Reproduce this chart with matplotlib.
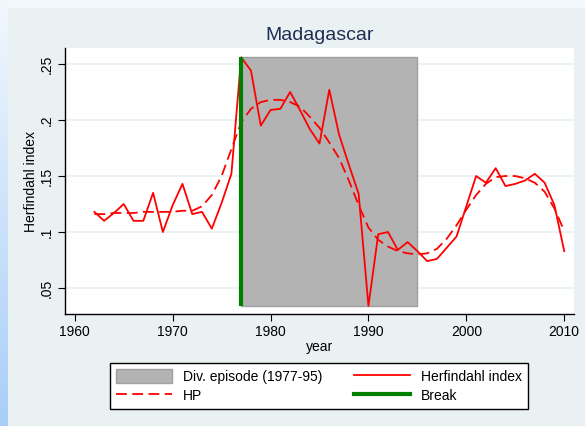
import numpy as np
import matplotlib.pyplot as plt
import matplotlib.patches as mpatches
from matplotlib.lines import Line2D

plt.rcParams['font.family'] = ['Liberation Sans', 'DejaVu Sans']

years = list(range(1962, 2011))
herfindahl = [0.118, 0.110, 0.117, 0.125, 0.110, 0.110, 0.135, 0.100, 0.124,
              0.143, 0.116, 0.118, 0.103, 0.126, 0.152, 0.256, 0.244, 0.195,
              0.209, 0.210, 0.225, 0.209, 0.192, 0.179, 0.227, 0.187, 0.160,
              0.134, 0.034, 0.098, 0.100, 0.084, 0.091, 0.083, 0.074, 0.076,
              0.086, 0.096, 0.123, 0.150, 0.144, 0.157, 0.141, 0.143, 0.146,
              0.152, 0.144, 0.124, 0.083]
hp = [0.116, 0.116, 0.117, 0.117, 0.117, 0.118, 0.118, 0.118, 0.118,
      0.119, 0.119, 0.123, 0.133, 0.150, 0.174, 0.198, 0.210, 0.216,
      0.218, 0.218, 0.216, 0.212, 0.203, 0.193, 0.180, 0.166, 0.146,
      0.124, 0.104, 0.093, 0.087, 0.083, 0.081, 0.080, 0.081, 0.085,
      0.094, 0.106, 0.120, 0.133, 0.143, 0.149, 0.150, 0.150, 0.148,
      0.144, 0.136, 0.121, 0.101]
episode = (1977, 1995)
break_year = 1977

fig = plt.figure(figsize=(5.85, 4.26), dpi=100)
fig.patch.set_facecolor('#EAF1F3')

# outer slide frame: light top strip and blue gradient on the left
fig.add_artist(mpatches.Rectangle((0, 1 - 7/426), 1, 7/426, transform=fig.transFigure,
                                  color='#F3F8FC', zorder=-5))
grad = np.linspace(0, 1, 256).reshape(-1, 1)
gax = fig.add_axes([0, 0, 7/585, 1])
gax.imshow(grad, aspect='auto', cmap=plt.matplotlib.colors.LinearSegmentedColormap.from_list(
    'g', ['#F2F7FD', '#A8CEF8']))
gax.axis('off')

ax = fig.add_axes([65/585, 1 - 314/426, 509/585, 266/426])
ax.set_facecolor('white')

ymin, ymax = min(herfindahl), max(herfindahl)
ax.fill_between(episode, ymin, ymax, color='#B3B3B3', edgecolor='#A0A0A0', lw=1, zorder=2)
ax.plot(years, herfindahl, color='red', lw=1.3, zorder=3)
ax.plot(years, hp, color='red', lw=1.3, ls=(0, (6, 3)), zorder=3)
ax.vlines(break_year, ymin, ymax, color='#008000', lw=3, zorder=4)

ax.set_xlim(1959, 2011)
ax.set_ylim(0.0268, 0.2643)
ax.set_xticks(range(1960, 2011, 10))
yt = [0.05, 0.1, 0.15, 0.2, 0.25]
ax.set_yticks(yt)
ax.set_yticklabels(['.05', '.1', '.15', '.2', '.25'], rotation=90, va='center')
for v in yt:
    ax.axhline(v, color='#EAF2F3', lw=1.5, zorder=1)
ax.tick_params(labelsize=10, length=5, color='black', pad=3)
for s in ['top', 'right']:
    ax.spines[s].set_visible(False)
for s in ['left', 'bottom']:
    ax.spines[s].set_linewidth(1.0)

ax.set_xlabel('year', fontsize=10, labelpad=1)
ax.set_ylabel('Herfindahl index', fontsize=10)
ax.yaxis.set_label_coords(-0.053, 0.5)
fig.text(320/585, 1 - 35/426, 'Madagascar', fontsize=14, color='#1E2D53',
         ha='center', va='center')

handles = [
    mpatches.Patch(facecolor='#B3B3B3', edgecolor='#A0A0A0', label='Div. episode (1977-95)'),
    Line2D([], [], color='red', lw=1.3, ls=(0, (6, 3)), label='HP'),
    Line2D([], [], color='red', lw=1.3, label='Herfindahl index'),
    Line2D([], [], color='#008000', lw=3, label='Break'),
]
leg = fig.legend(handles=handles, ncol=2, loc='center',
                 bbox_to_anchor=(319/585, 1 - 386/426), fontsize=10,
                 frameon=True, fancybox=False, edgecolor='black', framealpha=1,
                 handlelength=4, handleheight=1.2, columnspacing=2.3,
                 labelspacing=0.35, borderpad=0.45)
leg.get_frame().set_linewidth(1.0)

fig.savefig('out.png', dpi=100, facecolor=fig.get_facecolor())
